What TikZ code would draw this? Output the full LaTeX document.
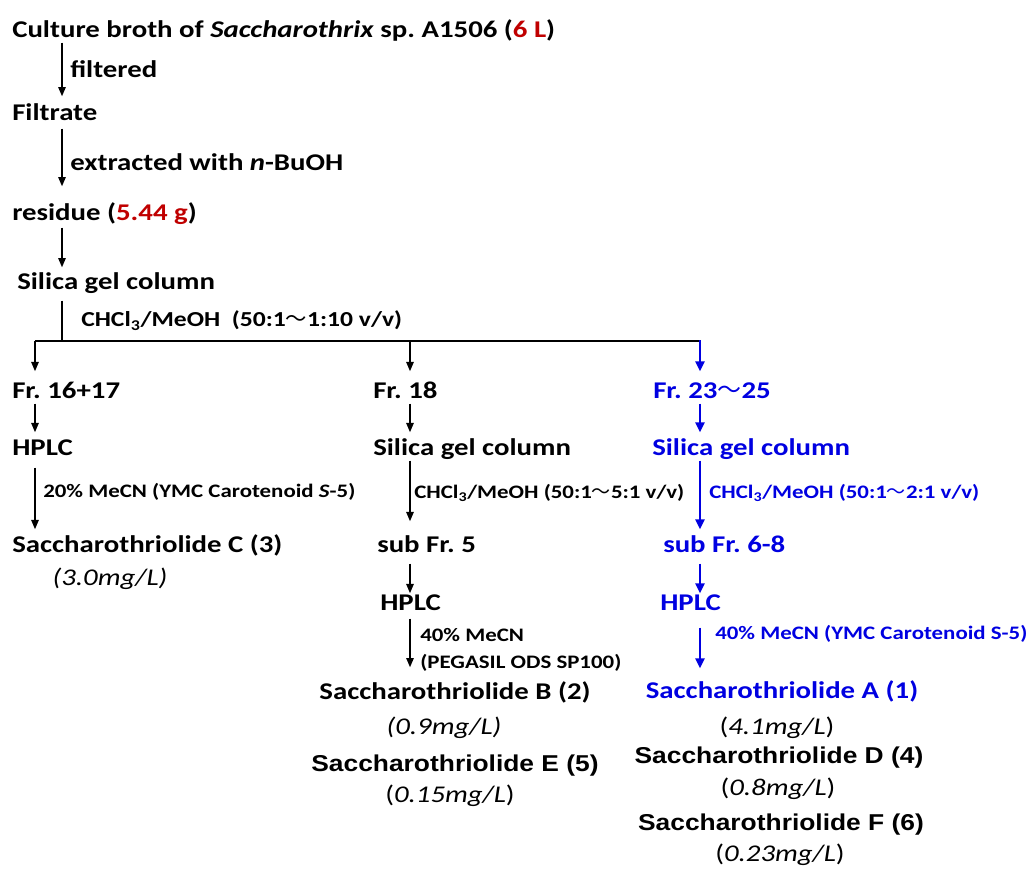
\documentclass[tikz,border=0pt]{standalone}
\usepackage{fontspec}
\setmainfont{Carlito}[FakeStretch=1.2]
\newfontfamily\arialb{Liberation Sans}[FakeStretch=1.15]
\newfontfamily\cjk{Noto Sans CJK SC}
\usetikzlibrary{arrows.meta}
\definecolor{dred}{RGB}{192,0,0}
\definecolor{fblue}{RGB}{0,0,225}
\newcommand{\wave}{{\cjk\mdseries ～}}
\frenchspacing
\begin{document}
\begin{tikzpicture}[x=0.75pt,y=-0.75pt,
  t/.style={anchor=west,inner sep=0pt,text height=11.6pt,text depth=0pt,font=\bfseries\fontsize{18}{21}\selectfont},
  tc/.style={t,anchor=center},
  lab/.style={t},
  lab2/.style={anchor=west,inner sep=0pt,text height=10.3pt,text depth=0pt,font=\bfseries\fontsize{16}{19}\selectfont},
  sm/.style={anchor=west,inner sep=0pt,text height=9.2pt,text depth=0pt,font=\bfseries\fontsize{14.3}{17}\selectfont},
  val/.style={anchor=center,inner sep=0pt,text height=11.6pt,text depth=0pt,font=\fontsize{18}{21}\selectfont},
  cmp/.style={anchor=center,inner sep=0pt,text height=12pt,text depth=0pt,font=\arialb\bfseries\fontsize{17.2}{20}\selectfont},
  arr/.style={-{Triangle[length=7pt,width=5.5pt]},line width=1.3pt},
  barr/.style={-{Triangle[length=7.5pt,width=6.8pt]},line width=1.8pt,fblue},
  ln/.style={line width=1.3pt},
  bl/.style={text=fblue},
]
\fill[white] (0,0) rectangle (1027,868);
\useasboundingbox (0,0) rectangle (1027,868);
% column x positions
\coordinate (xA) at (62,0);
\coordinate (xL) at (35,0);
\coordinate (xM) at (410,0);
\coordinate (xR) at (700,0);
\coordinate (split) at (62,341);
% top chain
\node[t] (culture) at (12,30) {Culture broth of \textit{Saccharothrix} sp. A1506 (\textcolor{dred}{6 L})};
\node[lab] (filt) at (70,70) {filtered};
\node[t] (filtrate) at (12,113) {Filtrate};
\node[lab] (ext) at (70,163) {extracted with \textit{n}-BuOH};
\node[t] (res) at (12,213) {residue (\textcolor{dred}{5.44 g})};
\node[t] (sgc) at (17,282) {Silica gel column};
\node[lab2] (elu) at (81,320) {CHCl\textsubscript{3}/MeOH\ \ (50:1\wave1:10 v/v)};
\draw[arr,shorten <=3.5pt,shorten >=6.5pt] (xA |- culture.south) -- (xA |- filtrate.north);
\draw[arr,shorten <=5.8pt,shorten >=14pt] (xA |- filtrate.south) -- (xA |- res.north);
\draw[arr,shorten <=5pt,shorten >=5pt] (xA |- res.south) -- (xA |- sgc.north);
\draw[ln,shorten <=8pt] (xA |- sgc.south) -- (split);
\draw[ln] (xL |- split) -- (xR |- split);
% left column
\node[t] (fr1) at (12,391) {Fr. 16+17};
\node[t] (hplc1) at (12,448) {HPLC};
\node[sm] (l20) at (43,491) {20\% MeCN (YMC Carotenoid \textit{S}-5)};
\node[t] (c3) at (12,545) {Saccharothriolide C (3)};
\node[val] (v3) at (110,578) {\itshape(3.0mg/L)};
\draw[arr,shorten >=8.8pt] (xL |- split) -- (xL |- fr1.north);
\draw[arr,shorten <=3.5pt,shorten >=5.8pt] (xL |- fr1.south) -- (xL |- hplc1.north);
\draw[arr,shorten <=8.8pt,shorten >=5.8pt] (xL |- hplc1.south) -- (xL |- c3.north);
% middle column
\node[t] (fr2) at (373,391) {Fr. 18};
\node[t] (sg2) at (373,448) {Silica gel column};
\node[sm] (elu2) at (414,492) {CHCl\textsubscript{3}/MeOH (50:1\wave5:1 v/v)};
\node[t] (sub5) at (377,545) {sub Fr. 5};
\node[t] (hplc2) at (380,603) {HPLC};
\node[sm] (l40) at (420,635) {40\% MeCN};
\node[sm] (peg) at (420,662) {(PEGASIL ODS SP100)};
\node[tc] (sB) at (455,692) {Saccharothriolide B (2)};
\node[val] (vB) at (444,727) {\itshape(0.9mg/L)};
\node[cmp] (sE) at (455,763) {Saccharothriolide E (5)};
\node[val] (vE) at (450,795) {(\textit{0.15mg/L})};
\draw[arr,shorten >=8.8pt] (xM |- split) -- (xM |- fr2.north);
\draw[arr,shorten <=3.5pt,shorten >=5.8pt] (xM |- fr2.south) -- (xM |- sg2.north);
\draw[arr,shorten <=3.5pt,shorten >=11.8pt] (xM |- sg2.south) -- (xM |- sub5.north);
\draw[arr,shorten <=8pt,shorten >=1.3pt] (xM |- sub5.south) -- (xM |- hplc2.north);
\draw[arr,shorten <=5.8pt,shorten >=12.5pt] (xM |- hplc2.south) -- (xM |- sB.north);
% right column (blue)
\node[t,bl] (fr3) at (653,391) {Fr. 23\wave25};
\node[t,bl] (sg3) at (652,448) {Silica gel column};
\node[sm,bl] (elu3) at (709,492) {CHCl\textsubscript{3}/MeOH (50:1\wave2:1 v/v)};
\node[t,bl] (sub68) at (663,545) {sub Fr. 6-8};
\node[t,bl] (hplc3) at (660,603) {HPLC};
\node[sm,bl] (l40b) at (715,633) {40\% MeCN (YMC Carotenoid S-5)};
\node[tc,bl] (sA) at (782,691) {Saccharothriolide A (1)};
\node[val] (vA) at (777,727) {(\textit{4.1mg/L})};
\node[cmp] (sD) at (779,755) {Saccharothriolide D (4)};
\node[val] (vD) at (778,788) {(\textit{0.8mg/L})};
\node[cmp] (sF) at (781,822) {Saccharothriolide F (6)};
\node[val] (vF) at (780,854) {(\textit{0.23mg/L})};
\draw[barr,shorten <=-0.6pt,shorten >=8.8pt] (xR |- split) -- (xR |- fr3.north);
\draw[barr,shorten <=3.5pt,shorten >=5.8pt] (xR |- fr3.south) -- (xR |- sg3.north);
\draw[barr,shorten <=3.5pt,shorten >=5.8pt] (xR |- sg3.south) -- (xR |- sub68.north);
\draw[barr,shorten <=8pt,shorten >=1.3pt] (xR |- sub68.south) -- (xR |- hplc3.north);
\draw[barr,shorten <=12.5pt,shorten >=11pt] (xR |- hplc3.south) -- (xR |- sA.north);
\end{tikzpicture}
\end{document}
